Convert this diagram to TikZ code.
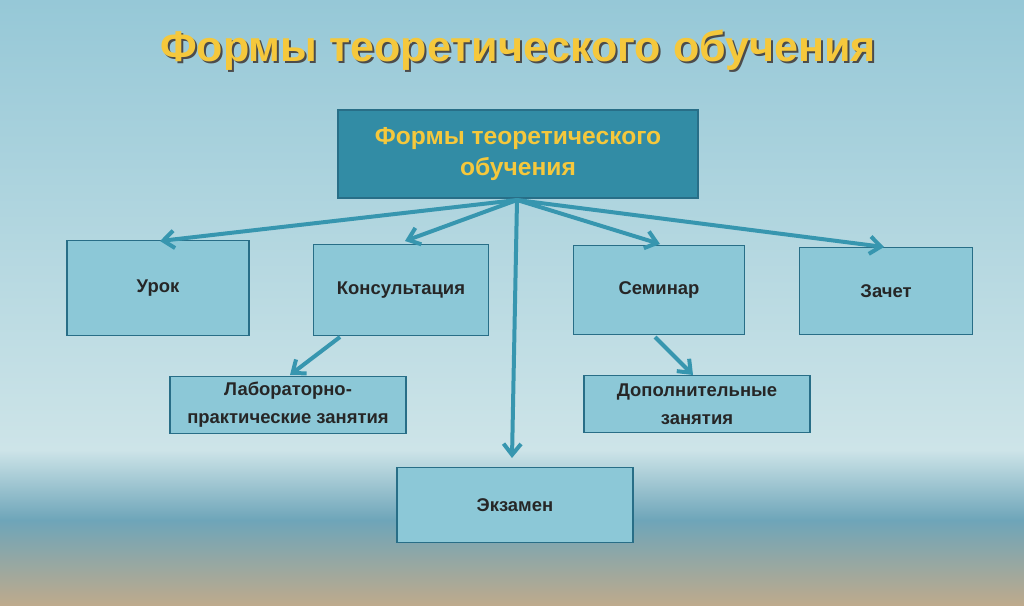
\documentclass[tikz,border=0pt]{standalone}
\usepackage{fontspec}
\setmainfont{Liberation Sans}
\usetikzlibrary{arrows.meta}
\definecolor{boxfill}{RGB}{140,200,215}
\definecolor{boxline}{RGB}{40,110,135}
\definecolor{topfill}{RGB}{50,140,165}
\definecolor{gold}{RGB}{245,200,60}
\definecolor{arrowcol}{RGB}{55,150,175}
\definecolor{sky}{RGB}{150,200,215}
\definecolor{skylow}{RGB}{205,228,232}
\definecolor{sea}{RGB}{110,165,185}
\definecolor{sand}{RGB}{190,170,140}
\begin{document}
\begin{tikzpicture}[x=0.02cm,y=-0.02cm,
    formbox/.style={draw=boxline,fill=boxfill,line width=.3mm,align=center,
      font=\fontsize{10.5}{16}\selectfont\bfseries,text=black!85,inner sep=0pt},
    link/.style={draw=arrowcol,line width=.8mm,-{Straight Barb[length=2.2mm,width=3.5mm]}}]
    % background
    \shade[top color=sky,bottom color=skylow] (0,0) rectangle (1024,450);
    \shade[top color=skylow,bottom color=sea] (0,450) rectangle (1024,520);
    \shade[top color=sea,bottom color=sand] (0,520) rectangle (1024,605);
    \useasboundingbox (0,0) rectangle (1024,605);

    \node[font=\fontsize{24.5}{27}\selectfont\bfseries,text=black!70] at (520,52) {Формы теоретического обучения};
    \node[font=\fontsize{24.5}{27}\selectfont\bfseries,text=gold] (title) at (518,50) {Формы теоретического обучения};

    \node[formbox,fill=topfill,text=gold,font=\fontsize{14}{18}\selectfont\bfseries,
      minimum width=360*0.02cm,minimum height=88*0.02cm] (root) at (518,154) {Формы теоретического\\обучения};
    \coordinate (hub) at (517,200);

    \node[formbox,minimum width=182*0.02cm,minimum height=95*0.02cm] (urok) at (158,288) {Урок};
    \node[formbox,minimum width=175*0.02cm,minimum height=91*0.02cm] (kons) at (401,290) {Консультация};
    \node[formbox,minimum width=171*0.02cm,minimum height=89*0.02cm] (sem) at (659,290) {Семинар};
    \node[formbox,minimum width=173*0.02cm,minimum height=87*0.02cm] (zach) at (886,291) {Зачет};
    \node[formbox,minimum width=236*0.02cm,minimum height=57*0.02cm] (lab) at (288,405) {Лабораторно-\\практические занятия};
    \node[formbox,minimum width=226*0.02cm,minimum height=57*0.02cm] (dop) at (697,404) {Дополнительные\\занятия};
    \node[formbox,minimum width=236*0.02cm,minimum height=75*0.02cm] (exam) at (515,505) {Экзамен};

    \draw[link] (hub) -- (160,241);
    \draw[link] (hub) -- (405,241);
    \draw[link] (hub) -- (660,244);
    \draw[link] (hub) -- (884,247);
    \draw[link] (hub) -- (512,458);
    \draw[link] (340,337) -- (290,375);
    \draw[link] (655,337) -- (693,375);
\end{tikzpicture}
\end{document}
